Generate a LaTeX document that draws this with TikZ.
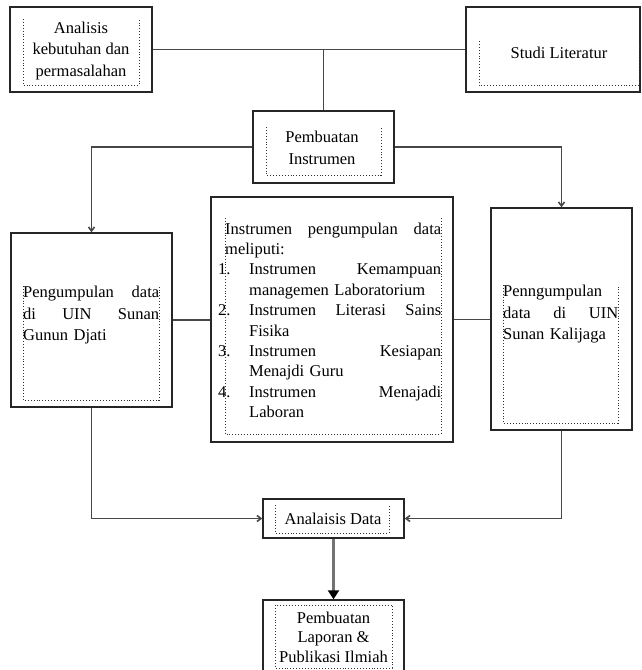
\documentclass[tikz,border=0pt]{standalone}
\usepackage{fontspec}
\setmainfont{Liberation Serif}
\usetikzlibrary{arrows.meta}
\begin{document}
\begin{tikzpicture}[x=1pt,y=-1pt,
  outer/.style={draw=black!85, line width=1.4pt, inner sep=0pt, fill=white},
  dotbox/.style={draw=black!80, dotted, line width=0.9pt},
  conn/.style={draw=black!72, line width=1.6pt},
  txt/.style={inner sep=0pt, font=\fontsize{16.5}{21.5}\selectfont},
  tip/.style={-{Straight Barb[length=4pt,width=6pt]}}
]
\clip (0,0) rectangle (642,670);
% outer boxes
\node[outer, minimum width=142pt, minimum height=85pt] (A) at (81,49.5) {};
\node[outer, minimum width=174pt, minimum height=85pt] (S) at (553,49.5) {};
\node[outer, minimum width=141pt, minimum height=72pt] (P) at (323.5,147) {};
\node[outer, minimum width=161pt, minimum height=174pt] (L) at (91.5,320) {};
\node[outer, minimum width=242pt, minimum height=245pt] (M) at (332,319.5) {};
\node[outer, minimum width=141pt, minimum height=222pt] (R) at (561.5,319) {};
\node[outer, minimum width=141pt, minimum height=39pt] (D) at (333.5,518.5) {};
\node[outer, minimum width=141pt, minimum height=75pt] (F) at (333.5,637.5) {};
% dotted inner frames
\draw[dotbox] (23,19) -- (23,85) -- (139,85) -- (139,19);
\draw[dotbox] (479,41) -- (479,85) -- (639,85) -- (639,41);
\draw[dotbox] (266,127) -- (266,175) -- (381,175) -- (381,127);
\draw[dotbox] (23,286) -- (23,400) -- (159,400) -- (159,286);
\draw[dotbox] (225,218) -- (225,434) -- (441,434) -- (441,218);
\draw[dotbox] (503,285) -- (503,423) -- (618,423) -- (618,285);
\draw[dotbox] (275,505) -- (275,533) -- (389,533) -- (389,505);
\draw[dotbox] (275,605) rectangle (392,668);
% texts
\node[txt, align=center] (tA) at (81,51) {Analisis\\kebutuhan dan\\permasalahan};
\node[txt] (tS) at (559,53) {Studi Literatur};
\node[txt, align=center] (tP) at (322,148) {Pembuatan\\Instrumen};
\node[txt, anchor=north west, text width=136pt, align=left] (tL) at (23,286)
  {Pengumpulan\hfill data\\di\hfill UIN\hfill Sunan\\Gunun Djati};
\node[txt, anchor=north west, text width=216pt, align=left,
  font=\fontsize{16.5}{20.4}\selectfont] (tM) at (225,222.5)
  {Instrumen\hfill pengumpulan\hfill data\\
   meliputi:\\
   \hspace*{-7pt}\makebox[31pt][l]{1.}Instrumen\hfill Kemampuan\\
   \hspace*{24pt}managemen Laboratorium\\
   \hspace*{-7pt}\makebox[31pt][l]{2.}Instrumen\hfill Literasi\hfill Sains\\
   \hspace*{24pt}Fisika\\
   \hspace*{-7pt}\makebox[31pt][l]{3.}Instrumen\hfill Kesiapan\\
   \hspace*{24pt}Menajdi Guru\\
   \hspace*{-7pt}\makebox[31pt][l]{4.}Instrumen\hfill Menajadi\\
   \hspace*{24pt}Laboran};
\node[txt, anchor=north west, text width=115pt, align=left] (tR) at (503,285)
  {Penngumpulan\\data\hfill di\hfill UIN\\Sunan Kalijaga};
\node[txt] (tD) at (333,519) {Analaisis Data};
\node[txt, align=center, font=\fontsize{16.5}{19.5}\selectfont] (tF) at (333.5,637)
  {Pembuatan\\Laporan \&\\Publikasi Ilmiah};
% connectors
\draw[conn] (A.east) -- (S.west);
\coordinate (J) at (P.north |- A.east);
\draw[conn] (J) -- (P.north);
\draw[conn, tip] (P.west) -| (L.north);
\draw[conn, tip] (P.east) -| (R.north);
\draw[conn] (L.east) -- (L.east -| M.west);
\draw[conn] (M.east) -- (M.east -| R.west);
\draw[conn, tip] (L.south) |- (D.west);
\draw[conn, tip] (R.south) |- (D.east);
\draw[draw=black!55, line width=2.4pt, -{Triangle[length=9pt,width=11pt,black]}] (D.south) -- (F.north);
\end{tikzpicture}
\end{document}
